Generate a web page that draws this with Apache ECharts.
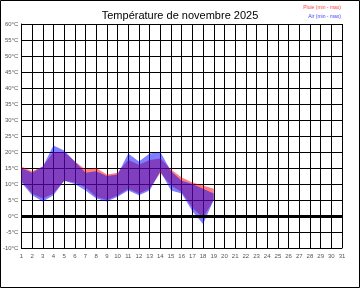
<!DOCTYPE html>
<html><head><meta charset="utf-8">
<script src="https://cdn.jsdelivr.net/npm/echarts@6/dist/echarts.min.js"></script>
<style>html,body{margin:0;padding:0;background:#fff}#c{width:360px;height:288px}</style>
</head><body><div id="c"></div>
<script>
const xLabels = ['1','2','3','4','5','6','7','8','9','10','11','12','13','14','15','16','17','18','19','20','21','22','23','24','25','26','27','28','29','30','31'];
const redMin = [11,7,5.5,7,11,10.5,9,6,5,6.5,8.5,7,8.5,13.5,9.5,7.5,2.5,-0.5,5];
const redMax = [15.5,14,15.5,20,20,17,14.5,15,13,13.5,17.5,16,17.5,18,14.5,12,10.5,9.5,8.5];
const airMin = [10.5,6.5,4.5,6.5,11,10,8,5.5,4.5,6,8,6.5,8,14,8,7,1.5,-2.5,5];
const airMax = [15,13.5,15.5,22,20.5,17,13.5,14,12.5,13,19.5,17,19.5,20,14,11,10,8.5,7];
const yTicks = [-10,60,5];
const titleText = 'Température de novembre 2025';
const legendRed = 'Pluie (min - max)';
const legendBlue = 'Air (min - max)';

const diff = (hi,lo) => hi.map((v,i)=>v-lo[i]);

const chart = echarts.init(document.getElementById('c'), null, {renderer:'canvas'});
const base = {type:'line', symbol:'none', silent:true, lineStyle:{width:0}, stackStrategy:'all'};
chart.setOption({
  animation:false,
  title:{text:titleText, left:'center', top:5, textStyle:{fontFamily:'Liberation Sans', fontSize:11, fontWeight:'normal', color:'#000'}},
  grid:{left:17, right:18, top:24, bottom:40},
  xAxis:{type:'category', data:xLabels, boundaryGap:false,
    axisLine:{onZero:false, lineStyle:{color:'#000', width:1}},
    axisTick:{show:false},
    axisLabel:{interval:0, fontSize:6, color:'#555', margin:5, fontFamily:'Liberation Sans'},
    splitLine:{show:true, interval:0, lineStyle:{color:'#000', width:1}}},
  yAxis:{type:'value', min:yTicks[0], max:yTicks[1], interval:yTicks[2],
    axisLine:{show:true, lineStyle:{color:'#000', width:1}},
    axisTick:{show:false},
    axisLabel:{fontSize:6, color:'#555', margin:3, fontFamily:'Liberation Sans', formatter:'{value}°C'},
    splitLine:{show:true, lineStyle:{color:'#000', width:1}}},
  graphic:[
    {type:'rect', shape:{x:0.5,y:0.5,width:359,height:287}, style:{fill:null, stroke:'#000', lineWidth:1}, silent:true},
    {type:'text', right:19, top:5, style:{text:legendRed, fill:'#ff4444', font:'5px "Liberation Sans"'}},
    {type:'text', right:19, top:14, style:{text:legendBlue, fill:'#4444ff', font:'5px "Liberation Sans"'}}
  ],
  series:[
    Object.assign({}, base, {name:'rlo', stack:'r', data:redMin,
      markLine:{symbol:'none', silent:true, label:{show:false}, lineStyle:{color:'#000', width:3, type:'solid'}, data:[{yAxis:0}]}}),
    Object.assign({}, base, {name:legendRed, stack:'r', data:diff(redMax,redMin), areaStyle:{color:'rgba(255,0,0,0.5)', opacity:1}}),
    Object.assign({}, base, {name:'blo', stack:'b', data:airMin}),
    Object.assign({}, base, {name:legendBlue, stack:'b', data:diff(airMax,airMin), areaStyle:{color:'rgba(0,0,255,0.5)', opacity:1}})
  ]
});
</script></body></html>
